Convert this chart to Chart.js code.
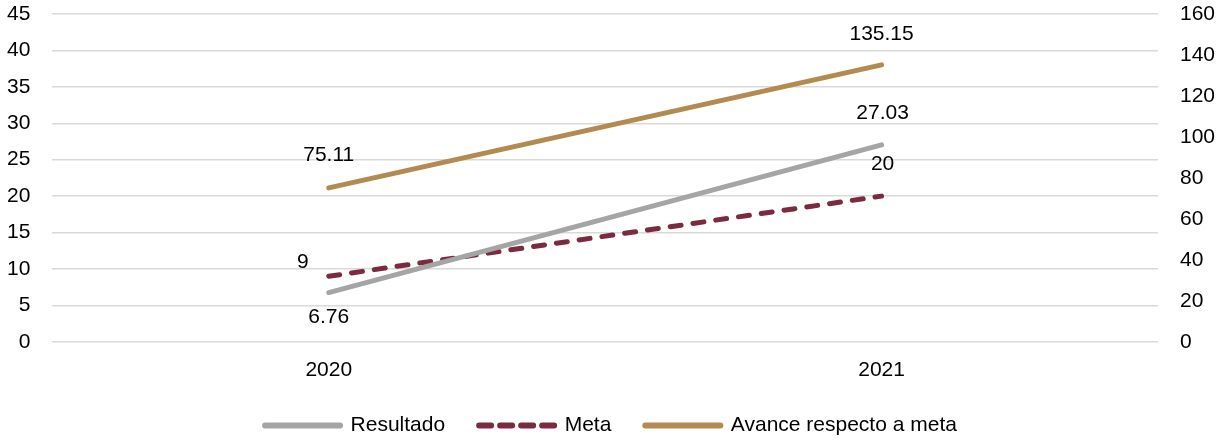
<!DOCTYPE html>
<html>
<head>
<meta charset="utf-8">
<script src="https://cdn.jsdelivr.net/npm/chart.js@4/dist/chart.umd.min.js"></script>
<style>
html,body{margin:0;padding:0;background:#fff;}
#wrap{width:1228px;height:440px;position:relative;}
</style>
</head>
<body>
<div id="wrap"><canvas id="c"></canvas></div>
<script>
const categories = ['2020', '2021'];
const resultado = [6.76, 27.03];
const meta = [9, 20];
const avance = [75.11, 135.15];
const leftTicks = [0, 5, 10, 15, 20, 25, 30, 35, 40, 45];
const rightTicks = [0, 20, 40, 60, 80, 100, 120, 140, 160];

const FONT = '"Liberation Sans", Arial, sans-serif';

const labelPlugin = {
  id: 'pointLabels',
  afterDatasetsDraw(chart) {
    const ctx = chart.ctx;
    ctx.save();
    ctx.font = '21px ' + FONT;
    ctx.fillStyle = '#000';
    ctx.textAlign = 'center';
    ctx.textBaseline = 'middle';
    chart.data.datasets.forEach((ds, di) => {
      const m = chart.getDatasetMeta(di);
      m.data.forEach((pt, i) => {
        const off = ds.labelOffsets[i];
        ctx.fillText(String(ds.data[i]), pt.x + off[0], pt.y + off[1]);
      });
    });
    ctx.restore();
  }
};

function trimY(axis) { axis.paddingTop = 14; }

new Chart(document.getElementById('c'), {
  type: 'line',
  data: {
    labels: categories,
    datasets: [
      {
        label: 'Resultado',
        data: resultado,
        yAxisID: 'y',
        borderColor: '#A5A5A5',
        backgroundColor: '#A5A5A5',
        borderWidth: 5,
        borderCapStyle: 'round',
        pointRadius: 0,
        labelOffsets: [[0, 25], [1, -32]]
      },
      {
        label: 'Meta',
        data: meta,
        yAxisID: 'y',
        borderColor: '#7B2A40',
        backgroundColor: '#7B2A40',
        borderWidth: 5,
        borderDash: [11, 12],
        borderCapStyle: 'round',
        pointRadius: 0,
        labelOffsets: [[-26, -14], [1, -32]]
      },
      {
        label: 'Avance respecto a meta',
        data: avance,
        yAxisID: 'y1',
        borderColor: '#B38A50',
        backgroundColor: '#B38A50',
        borderWidth: 5,
        borderCapStyle: 'round',
        pointRadius: 0,
        labelOffsets: [[0, -33], [0, -31]]
      }
    ]
  },
  options: {
    responsive: true,
    maintainAspectRatio: false,
    animation: false,
    layout: { padding: { left: -15, right: -9, top: 0, bottom: -6 } },
    plugins: {
      legend: {
        position: 'bottom',
        labels: {
          usePointStyle: true,
          pointStyle: 'line',
          pointStyleWidth: 75,
          boxHeight: 5,
          padding: 34,
          color: '#000',
          font: { family: FONT, size: 21 },
          generateLabels(chart) {
            const items = Chart.defaults.plugins.legend.labels.generateLabels(chart);
            items.forEach((it, i) => {
              const ds = chart.data.datasets[i];
              it.lineDash = ds.borderDash ? [12, 9] : [];
              it.lineCap = 'round';
              it.lineWidth = 6;
              it.strokeStyle = ds.borderColor;
              it.pointStyle = 'line';
            });
            return items;
          }
        }
      },
      tooltip: { enabled: false }
    },
    scales: {
      x: {
        offset: true,
        grid: { display: false, drawTicks: false },
        border: { display: false },
        ticks: { color: '#000', padding: 16, font: { family: FONT, size: 21 } },
        afterFit(axis) { axis.height -= 18; }
      },
      y: {
        position: 'left',
        min: 0, max: 45,
        afterBuildTicks(axis) { axis.ticks = leftTicks.map(v => ({ value: v })); },
        afterFit: trimY,
        grid: { color: '#D9D9D9', lineWidth: 1.5, drawTicks: false },
        border: { display: false },
        ticks: { color: '#000', padding: 22, font: { family: FONT, size: 21 } }
      },
      y1: {
        position: 'right',
        min: 0, max: 160,
        afterBuildTicks(axis) { axis.ticks = rightTicks.map(v => ({ value: v })); },
        afterFit: trimY,
        grid: { display: false, drawTicks: false },
        border: { display: false },
        ticks: { color: '#000', padding: 22, font: { family: FONT, size: 21 } }
      }
    }
  },
  plugins: [labelPlugin]
});
</script>
</body>
</html>
